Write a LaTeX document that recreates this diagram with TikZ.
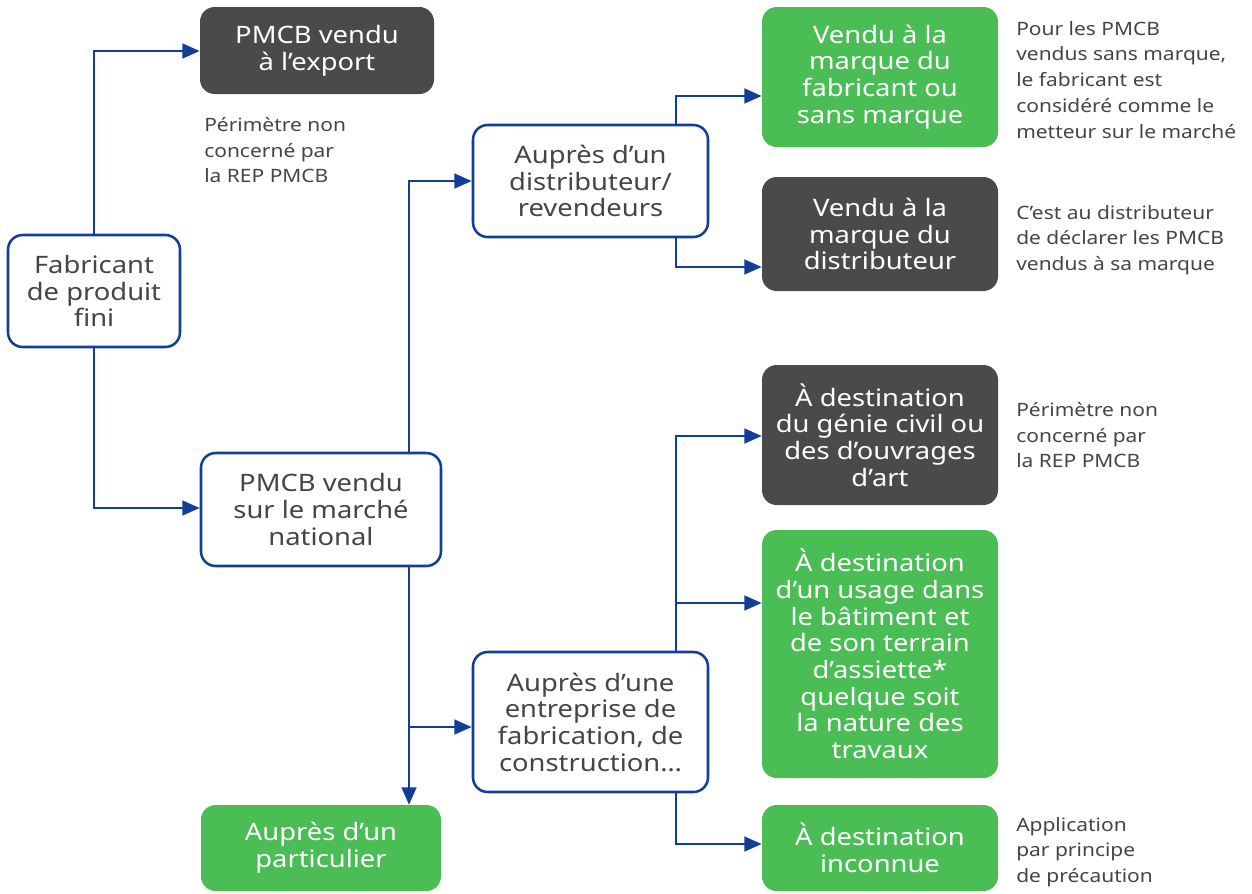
\documentclass[tikz,border=0pt]{standalone}
\usepackage{fontspec}
\setmainfont{Noto Sans}[FakeStretch=1.14]
\usetikzlibrary{arrows.meta,calc}
\definecolor{cblue}{HTML}{123E99}
\definecolor{cgreen}{HTML}{4BBD55}
\definecolor{cdark}{HTML}{4A4A48}
\definecolor{ctext}{HTML}{454545}
\tikzset{
  boxbase/.style={rounded corners=11pt, align=center, inner sep=0pt,
    font=\fontsize{18}{20}\selectfont},
  wbox/.style={boxbase, draw=cblue, line width=1.9pt, fill=white, text=ctext},
  gbox/.style={boxbase, fill=cgreen, text=white},
  dbox/.style={boxbase, fill=cdark, text=white},
  note/.style={anchor=north west, align=left, inner sep=0pt, text=ctext,
    font=\fontsize{13.8}{19.3}\selectfont},
  conn/.style={draw=cblue, line width=1.8pt, -{Triangle[length=13pt,width=11pt]}},
}
\newcommand{\mybox}[7]{% style, name, x1, y1, x2, y2, text
  \node[#1, minimum width={(#5-#3)*0.75pt}, minimum height={(#6-#4)*0.75pt}]
    (#2) at ({(#3+#5)/2},{(#4+#6)/2}) {#7};}
\begin{document}
\begin{tikzpicture}[x=0.75pt,y=-0.75pt]
\path[use as bounding box] (0,0) rectangle (1252,893);
\mybox{dbox}{exp}{200}{7}{434}{94}{PMCB vendu\\à l’export}
\mybox{wbox}{fab}{8}{235}{180}{347}{Fabricant\\de produit\\fini}
\mybox{wbox}{nat}{201}{453}{441}{566}{PMCB vendu\\sur le marché\\national}
\mybox{wbox}{dist}{473}{125}{708}{237}{Auprès d’un\\distributeur/\\revendeurs}
\mybox{gbox}{vfab}{762}{7}{998}{147}{Vendu à la\\marque du\\fabricant ou\\sans marque}
\mybox{dbox}{vdist}{762}{177}{998}{291}{Vendu à la\\marque du\\distributeur}
\mybox{dbox}{genie}{762}{365}{998}{505}{À destination\\du génie civil ou\\des d’ouvrages\\d’art}
\mybox{gbox}{bat}{762}{530}{998}{778}{À destination\\d’un usage dans\\le bâtiment et\\de son terrain\\d’assiette*\\quelque soit\\la nature des\\travaux}
\mybox{gbox}{inc}{762}{805}{998}{891}{À destination\\inconnue}
\mybox{wbox}{ent}{473}{652}{708}{792}{Auprès d’une\\entreprise de\\fabrication, de\\construction…}
\mybox{gbox}{part}{201}{805}{441}{891}{Auprès d’un\\particulier}

\node[note] (n1) at (204,117) {Périmètre non\\concerné par\\la REP PMCB};
\node[note] (n2) at (1016,21) {Pour les PMCB\\vendus sans marque,\\le fabricant est\\considéré comme le\\metteur sur le marché};
\node[note] (n3) at (1016,205) {C’est au distributeur\\de déclarer les PMCB\\vendus à sa marque};
\node[note] (n4) at (1016,402) {Périmètre non\\concerné par\\la REP PMCB};
\node[note] (n5) at (1016,817) {Application\\par principe\\de précaution};

\coordinate (xa) at (409,0);
\coordinate (xb) at (676,0);
\coordinate (y1) at (0,51);
\coordinate (y2) at (0,508);
\coordinate (y3) at (0,181);
\coordinate (y4) at (0,727);
\draw[conn] (fab.north) |- (exp.west |- y1);
\draw[conn] (fab.south) |- (nat.west |- y2);
\draw[conn] (nat.north -| xa) |- (dist.west |- y3);
\draw[conn] (nat.south -| xa) -- (part.north -| xa);
\draw[conn] (nat.south -| xa) |- (ent.west |- y4);
\draw[conn] (dist.north -| xb) |- (vfab.west |- 0,96);
\draw[conn] (dist.south -| xb) |- (vdist.west |- 0,267);
\draw[conn] (ent.north -| xb) |- (genie.west |- 0,436);
\draw[conn] (ent.north -| xb) |- (bat.west |- 0,603);
\draw[conn] (ent.south -| xb) |- (inc.west |- 0,844);
\end{tikzpicture}
\end{document}
